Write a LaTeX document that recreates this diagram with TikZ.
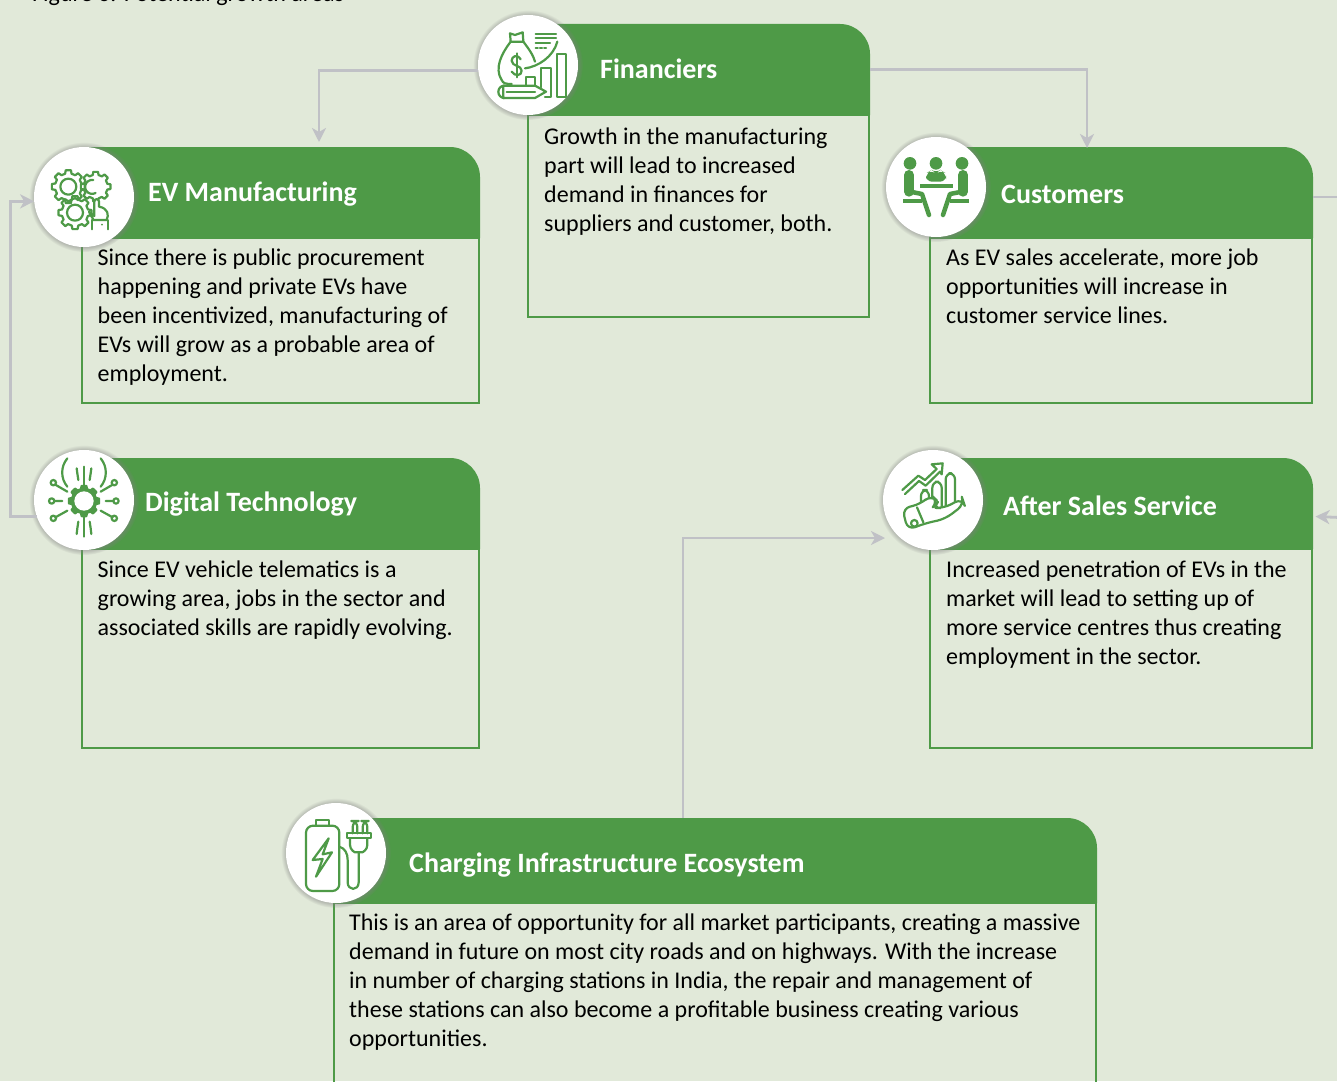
\documentclass[tikz,border=0pt]{standalone}
\usepackage{fontspec}
\setmainfont{Carlito}
\usetikzlibrary{positioning}
\usetikzlibrary{arrows.meta}
\usetikzlibrary{shadows}
\definecolor{pagegreen}{HTML}{E1E9D9}
\definecolor{headgreen}{HTML}{4E9A47}
\definecolor{linegrey}{HTML}{C0C1C6}
\tikzset{
	headbox/.style={rectangle, inner sep=0pt, outer sep=0pt, minimum height=91pt, anchor=north west},
	headshape/.style={fill=headgreen, rounded corners=30pt},
	bodybox/.style={draw=headgreen, line width=2.6pt, rectangle, inner sep=0pt, outer sep=0pt},
	headtitle/.style={anchor=west, inner sep=0pt, text=white, font=\fontsize{28}{32}\selectfont\bfseries},
	bodytext/.style={anchor=north west, inner sep=0pt, align=left, text=black, font=\fontsize{24}{28.9}\selectfont},
	iconcircle/.style={circle, fill=white, inner sep=0pt, outer sep=0pt, minimum width=100pt, circular drop shadow={shadow xshift=0pt, shadow yshift=0pt, shadow scale=1.1, opacity=.75}},
	iconline/.style={draw=headgreen, line width=2.2pt, line join=round, line cap=round},
	flowline/.style={draw=linegrey, line width=2.8pt},
	flowarrow/.style={flowline, -{Stealth[length=14pt, width=14pt, inset=4pt]}},
}
\newcommand{\gearshape}[3]{%
	\draw[iconline, shift={(#1,#2)}] (-14:#3*.8) \foreach \a in {0,45,...,315} {
		-- (\a-14:#3*.8) -- (\a-9:#3) -- (\a+9:#3) -- (\a+14:#3*.8)} -- cycle;
}
\begin{document}
\begin{tikzpicture}[x=1pt, y=-1pt]
	\useasboundingbox (0,0) rectangle (1337,1081);
	\clip (0,0) rectangle (1337,1081);
	\fill[pagegreen] (0,0) rectangle (1337,1081);

	\node (figtitle) [bodytext, anchor=base west] at (32,2) {Figure 6: Potential growth areas};

	% heads
	\node (finhead) [headbox, minimum width=343pt] at (527,24) {};
	\node (evhead) [headbox, minimum width=399pt] at (81,147) {};
	\node (custhead) [headbox, minimum width=384pt] at (929,147) {};
	\node (dighead) [headbox, minimum width=399pt] at (81,458) {};
	\node (afterhead) [headbox, minimum width=384pt] at (929,458) {};
	\node (chghead) [headbox, minimum width=764pt, minimum height=85pt] at (333,818) {};

	\fill[headshape] (finhead.north west) -- (finhead.north east) [sharp corners] -- (finhead.south east) -- (finhead.south west) -- cycle;
	\fill[headshape] (evhead.north west) -- (evhead.north east) [sharp corners] -- (evhead.south east) -- (evhead.south west) -- cycle;
	\fill[headshape] (custhead.north west) -- (custhead.north east) [sharp corners] -- (custhead.south east) -- (custhead.south west) -- cycle;
	\fill[headshape] (dighead.north west) -- (dighead.north east) [sharp corners] -- (dighead.south east) -- (dighead.south west) -- cycle;
	\fill[headshape] (afterhead.north west) -- (afterhead.north east) [sharp corners] -- (afterhead.south east) -- (afterhead.south west) -- cycle;
	\fill[headshape] (chghead.north west) -- (chghead.north east) [sharp corners] -- (chghead.south east) -- (chghead.south west) -- cycle;

	% boxes below the heads
	\node (finbox) [bodybox, minimum width=341pt, minimum height=202pt, below=0pt of finhead] {};
	\node (evbox) [bodybox, minimum width=397pt, minimum height=165pt, below=0pt of evhead] {};
	\node (custbox) [bodybox, minimum width=382pt, minimum height=165pt, below=0pt of custhead] {};
	\node (digbox) [bodybox, minimum width=397pt, minimum height=199pt, below=0pt of dighead] {};
	\node (afterbox) [bodybox, minimum width=382pt, minimum height=199pt, below=0pt of afterhead] {};
	\node (chgbox) [bodybox, minimum width=762pt, minimum height=220pt, below=0pt of chghead] {};

	\node (fintitle) [headtitle] at (600,69) {Financiers};
	\node (evtitle) [headtitle] at (148,194) {EV Manufacturing};
	\node (custtitle) [headtitle] at (1001,194) {Customers};
	\node (digtitle) [headtitle] at (145,504) {Digital Technology};
	\node (aftertitle) [headtitle] at (1003,506) {After Sales Service};
	\node (chgtitle) [headtitle] at (409,865) {Charging Infrastructure Ecosystem};

	\node (fintext) [bodytext] at (544,128) {Growth in the manufacturing\\part will lead to increased\\demand in finances for\\suppliers and customer, both.};
	\node (evtext) [bodytext] at (97.5,249) {Since there is public procurement\\happening and private EVs have\\been incentivized, manufacturing of\\EVs will grow as a probable area of\\employment.};
	\node (custtext) [bodytext] at (946,249) {As EV sales accelerate, more job\\opportunities will increase in\\customer service lines.};
	\node (digtext) [bodytext] at (97.5,561) {Since EV vehicle telematics is a\\growing area, jobs in the sector and\\associated skills are rapidly evolving.};
	\node (aftertext) [bodytext] at (946,561) {Increased penetration of EVs in the\\market will lead to setting up of\\more service centres thus creating\\employment in the sector.};
	\node (chgtext) [bodytext] at (349,914) {This is an area of opportunity for all market participants, creating a massive\\demand in future on most city roads and on highways. With the increase\\in number of charging stations in India, the repair and management of\\these stations can also become a profitable business creating various\\opportunities.};

	% icon discs
	\node (finicon) [iconcircle] at (528,65) {};
	\node (evicon) [iconcircle] at (84,197) {};
	\node (custicon) [iconcircle] at (936,187) {};
	\node (digicon) [iconcircle] at (84,500) {};
	\node (aftericon) [iconcircle] at (933,500) {};
	\node (chgicon) [iconcircle] at (336,853) {};

	% money bag, bars and pencil
	\begin{scope}[shift={(finicon.center)}, x=.3333pt, y=-.3333pt, shift={(-174,-195)}]
		\draw[iconline] (122,125) -- (120,100) -- (135,105) -- (158,97) -- (160,125) -- cycle;
		\draw[iconline] (122,125) .. controls (95,160) and (72,205) .. (95,240) .. controls (100,250) and (105,252) .. (125,252);
		\draw[iconline] (160,125) .. controls (175,145) and (190,165) .. (195,185);
		\draw[iconline] (152,178) .. controls (140,160) and (125,170) .. (125,182) .. controls (125,200) and (155,195) .. (155,212) .. controls (155,228) and (135,230) .. (125,215);
		\draw[iconline] (140,160) -- (140,232);
		\draw[iconline] (165,205) .. controls (205,200) and (250,170) .. (262,125);
		\draw[iconline] (197,102) -- (258,102) (197,115) -- (258,115) (197,128) -- (240,128);
		\draw[iconline, dotted] (197,143) -- (228,143);
		\draw[iconline] (167,255) -- (167,230) -- (195,230) -- (195,255);
		\draw[iconline] (212,262) -- (212,203) -- (242,203) -- (242,290) -- (225,290);
		\draw[iconline] (260,290) -- (260,163) -- (288,163) -- (288,290) -- cycle;
		\draw[iconline, rounded corners=6pt] (100,257) -- (85,257) -- (85,294) -- (100,294);
		\draw[iconline] (100,257) -- (195,257) -- (228,275) -- (195,294) -- (100,294) -- cycle;
		\draw[iconline] (100,257) -- (100,294) (110,276) -- (195,276);
	\end{scope}

	% gears and hand
	\begin{scope}[shift={(evicon.center)}, x=.3333pt, y=-.3333pt, shift={(-177,-171)}]
		\gearshape{130}{140}{50}
		\gearshape{212}{140}{45}
		\gearshape{150}{218}{50}
		\draw[iconline, fill=white] (130,140) circle (24);
		\draw[iconline] (150,218) circle (24);
		\draw[iconline] (205,120) arc (-80:-300:21);
		\draw[iconline, fill=white] (192,215) -- (208,228) -- (208,185) .. controls (208,175) and (222,175) .. (222,185) -- (222,200) .. controls (250,205) and (252,225) .. (245,240) -- (205,240) .. controls (205,235) and (195,225) .. (192,215) -- cycle;
		\draw[iconline] (202,268) -- (202,240) -- (248,240) -- (248,268);
		\fill[headgreen] (231,254) circle (3);
	\end{scope}

	% people at a table
	\begin{scope}[shift={(custicon.center)}, x=.3333pt, y=-.3333pt, shift={(-168,-171)}]
		\fill[headgreen] (90,100) circle (19);
		\fill[headgreen] (168,100) circle (19);
		\fill[headgreen] (246,100) circle (19);
		\draw[headgreen, line width=10pt, line cap=round, line join=round] (87,135) -- (87,185);
		\draw[headgreen, line width=10pt, line cap=round, line join=round] (249,135) -- (249,185);
		\draw[headgreen, line width=4.5pt, line cap=round, line join=round] (90,185) -- (126,192) -- (147,255);
		\draw[headgreen, line width=4.5pt, line cap=round, line join=round] (246,185) -- (210,192) -- (189,255);
		\fill[headgreen, rounded corners=6pt] (138,155) -- (138,130) -- (155,120) -- (168,130) -- (181,120) -- (198,130) -- (198,155) -- cycle;
		\fill[headgreen] (120,163) rectangle (218,175);
		\fill[headgreen] (70,208) rectangle (125,220);
		\fill[headgreen] (211,208) rectangle (266,220);
	\end{scope}

	% gear with circuit lines
	\begin{scope}[shift={(digicon.center)}, x=.3333pt, y=-.3333pt, shift={(-177,-180)}]
		\gearshape{177}{183}{46}
		\fill[headgreen, shift={(177,183)}] (-14:37) \foreach \a in {0,45,...,315} {
			-- (\a-14:37) -- (\a-9:46) -- (\a+9:46) -- (\a+14:37)} -- cycle;
		\fill[white] (177,183) circle (29);
		\draw[iconline] (177,80) -- (177,135) (177,232) -- (177,290);
		\draw[iconline] (155,85) -- (157,100) -- (160,120) (199,85) -- (197,100) -- (194,120);
		\draw[iconline] (155,282) -- (157,265) -- (160,245) (199,282) -- (197,265) -- (194,245);
		\draw[iconline] (127,140) arc (140:220:66);
		\draw[iconline] (227,140) arc (40:-40:66);
		\draw[iconline] (91,134) -- (127,155) (88,183) -- (112,183) (91,232) -- (127,212);
		\draw[iconline] (263,134) -- (227,155) (266,183) -- (242,183) (263,232) -- (227,212);
		\draw[iconline] (85,128) circle (8) (80,183) circle (8) (85,235) circle (8);
		\draw[iconline] (268,128) circle (8) (273,183) circle (8) (268,235) circle (8);
	\end{scope}

	% hand holding a chart
	\begin{scope}[shift={(aftericon.center)}, x=.3333pt, y=-.3333pt, shift={(-174,-165)}]
		\draw[iconline] (82,135) -- (130,92) -- (150,105) -- (185,72) (90,147) -- (132,108) -- (152,122) -- (195,80);
		\draw[iconline] (170,58) -- (203,55) -- (200,88) -- (195,80) (170,58) -- (185,72);
		\draw[iconline, rounded corners=6pt] (138,175) -- (138,135) -- (162,135) -- (162,160);
		\draw[iconline, rounded corners=6pt] (172,180) -- (172,110) -- (200,110) -- (200,185);
		\draw[iconline, rounded corners=6pt] (212,182) -- (212,85) -- (240,85) -- (240,180);
		\draw[iconline, fill=white, rounded corners=8pt] (82,190) -- (135,178) -- (168,150) -- (190,170) -- (172,188) -- (205,190) -- (262,160) -- (268,178) -- (210,222) -- (150,235) -- (98,255) -- cycle;
		\draw[iconline] (126,187) -- (145,232);
		\draw[iconline] (118,235) circle (10);
	\end{scope}

	% battery and plug
	\begin{scope}[shift={(chgicon.center)}, x=.3333pt, y=-.3333pt, shift={(-168,-174)}]
		\draw[iconline, rounded corners=7pt] (78,92) rectangle (178,288);
		\draw[iconline] (108,92) -- (108,76) -- (148,76) -- (148,92);
		\draw[iconline] (146,130) -- (98,195) -- (128,192) -- (108,245) -- (156,172) -- (128,178) -- cycle;
		\draw[iconline, rounded corners=6pt] (218,115) -- (218,78) -- (232,78) -- (232,115);
		\draw[iconline, rounded corners=6pt] (248,115) -- (248,78) -- (262,78) -- (262,115);
		\draw[iconline] (200,115) rectangle (272,130);
		\draw[iconline] (210,130) -- (210,150) .. controls (210,165) and (225,172) .. (225,172) -- (247,172) .. controls (247,172) and (262,165) .. (262,150) -- (262,130);
		\draw[iconline] (236,172) -- (236,262) .. controls (236,288) and (203,288) .. (203,262) -- (203,195) .. controls (203,175) and (195,160) .. (178,155);
	\end{scope}

	% connectors
	\begin{scope}[flowarrow]
		\draw (finicon.186) -| ([xshift=38.5pt, yshift=5pt]evhead.north);
		\draw (finhead.east) -| ([xshift=-34pt, yshift=-1pt]custhead.north);
		\draw (digicon.199) -- ++(-26,0) |- (evicon.185);
		\draw ([xshift=-32pt]chghead.north) |- ([xshift=-48pt, yshift=-38pt]aftericon.center);
	\end{scope}
	\coordinate (custout) at (1340,197);
	\coordinate (afterin) at (1340,517.5);
	\draw[flowline] ([yshift=-4.5pt]custhead.east) -- (custout);
	\draw[flowarrow] (afterin) -- ([xshift=2.5pt, yshift=-13pt]afterhead.east);
\end{tikzpicture}
\end{document}
